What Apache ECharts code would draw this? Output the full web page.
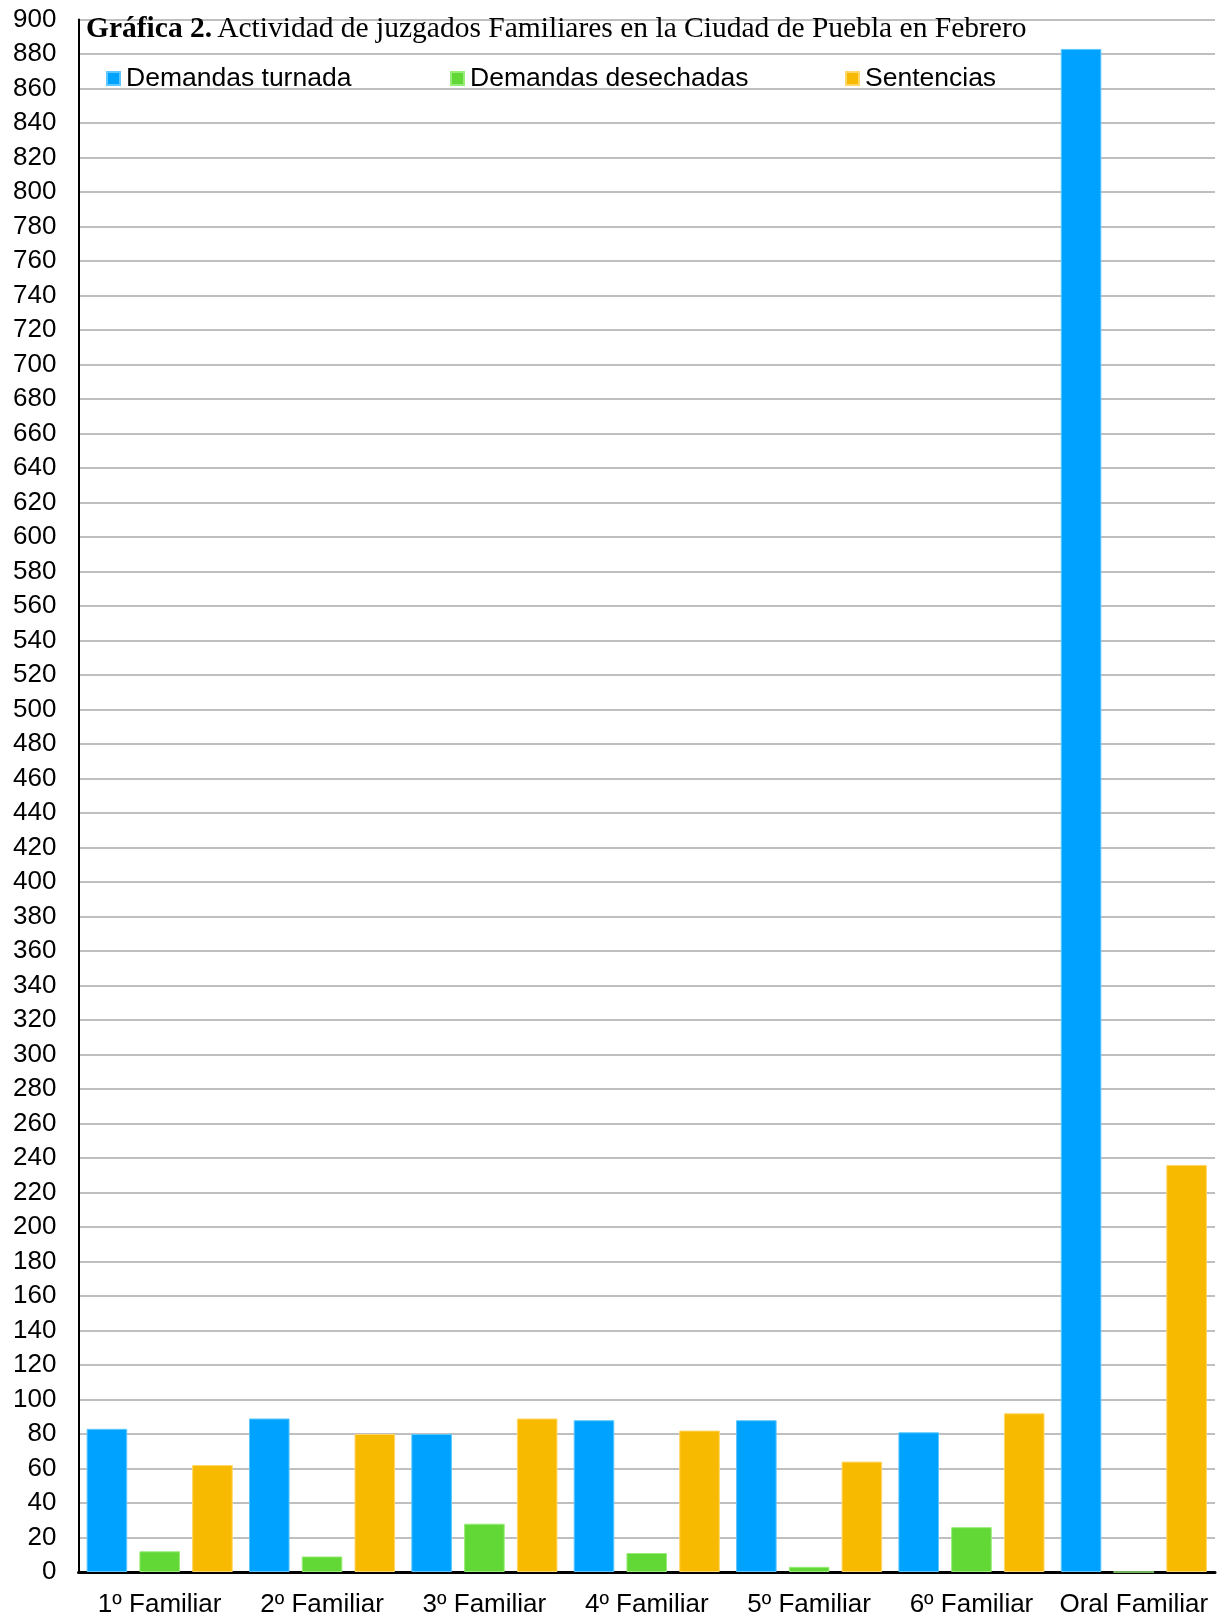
<!DOCTYPE html>
<html>
<head>
<meta charset="utf-8">
<script src="https://cdn.jsdelivr.net/npm/echarts@6/dist/echarts.min.js"></script>
<style>
html,body{margin:0;padding:0;background:#fff;}
#chart{width:1217px;height:1619px;}
</style>
</head>
<body>
<div id="chart"></div>
<script>
const categories = ['1º Familiar','2º Familiar','3º Familiar','4º Familiar','5º Familiar','6º Familiar','Oral Familiar'];
const seriesNames = ['Demandas turnada','Demandas desechadas','Sentencias'];
const demandasTurnada = [83, 89, 80, 88, 88, 81, 883];
const demandasDesechadas = [12, 9, 28, 11, 3, 26, 0];
const sentencias = [62, 80, 89, 82, 64, 92, 236];
const colors = ['#00A2FF', '#61D836', '#F8BA00'];
const borders = ['#5CC8FF', '#98EC78', '#FFD766'];

const chart = echarts.init(document.getElementById('chart'));
const font = '"Liberation Sans", Arial, sans-serif';
const serif = '"Liberation Serif", "Times New Roman", serif';

function legendAt(name, left) {
  return {
    data: [name], left: left, top: 65, padding: 0,
    icon: 'rect', itemWidth: 13, itemHeight: 13, itemGap: 0,
    textStyle: { fontFamily: font, fontSize: 26.5, color: '#000', lineHeight: 26, padding: [0, 0, 0, 1] }
  };
}

const data = [demandasTurnada, demandasDesechadas, sentencias];
chart.setOption({
  animation: false,
  backgroundColor: '#fff',
  title: {
    left: 86, top: 14, padding: 0,
    text: '{b|Gráfica 2.} {n|Actividad de juzgados Familiares en la Ciudad de Puebla en Febrero}',
    textStyle: {
      fontWeight: 'normal',
      rich: {
        b: { fontFamily: serif, fontSize: 29.5, fontWeight: 'bold', color: '#000' },
        n: { fontFamily: serif, fontSize: 29.5, fontWeight: 'normal', color: '#000' }
      }
    }
  },
  legend: [legendAt(seriesNames[0], 106), legendAt(seriesNames[1], 450), legendAt(seriesNames[2], 845)],
  grid: { left: 78.5, right: 2, top: 19.6, bottom: 47, containLabel: false },
  xAxis: {
    type: 'category', data: categories,
    axisLine: { lineStyle: { color: '#000', width: 3 } },
    axisTick: { show: false },
    axisLabel: { fontFamily: font, fontSize: 26, color: '#000', margin: 20, interval: 0 }
  },
  yAxis: {
    type: 'value', min: 0, max: 900, interval: 20,
    axisLine: { show: true, lineStyle: { color: '#000', width: 2 } },
    axisTick: { show: false },
    splitLine: { lineStyle: { color: '#BFBFBF', width: 2 } },
    axisLabel: { fontFamily: font, fontSize: 26, color: '#000', margin: 22 }
  },
  series: seriesNames.map((n, i) => ({
    name: n, type: 'bar', data: data[i],
    barGap: '30%', barCategoryGap: '10%',
    itemStyle: { color: colors[i], borderColor: borders[i], borderWidth: 1 },
    z: 3
  }))
});
</script>
</body>
</html>
